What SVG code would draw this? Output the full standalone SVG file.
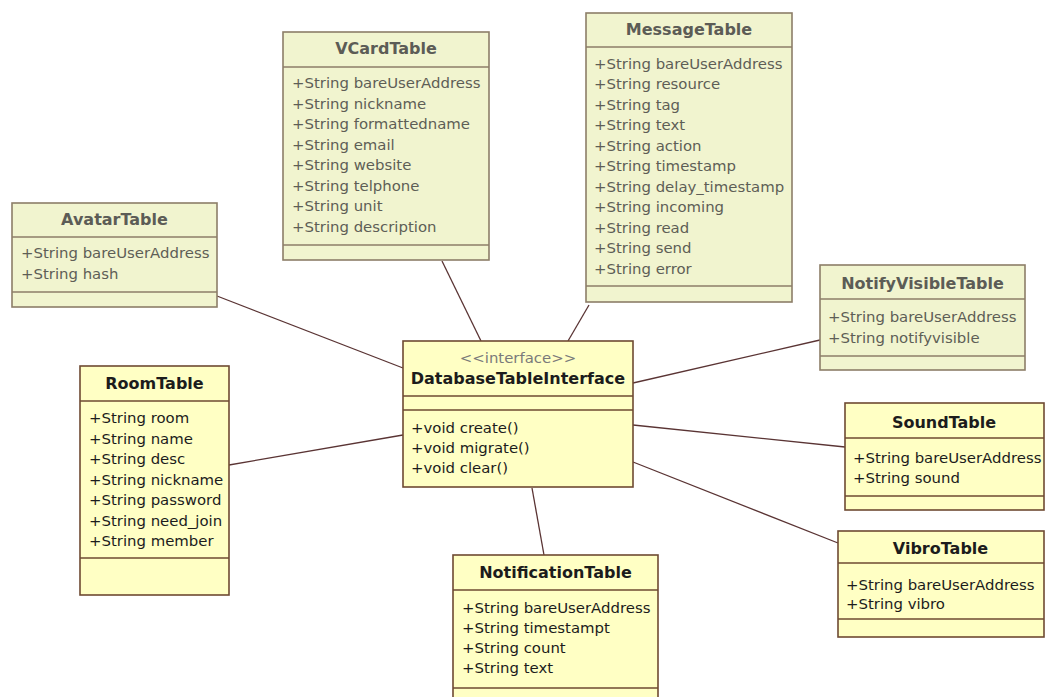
<svg xmlns="http://www.w3.org/2000/svg" width="1046" height="697" viewBox="0 0 1046 697">
  <style>
    .box { fill: #ffffc4; stroke: #6e4a32; stroke-width: 1.6; }
    .sep { stroke: #6e4a32; stroke-width: 1.6; }
    .fbox { fill: #f1f4cf; stroke: #8d7e68; stroke-width: 1.6; }
    .fsep { stroke: #8d7e68; stroke-width: 1.6; }
    .title { font-family: "DejaVu Sans", Verdana, sans-serif; font-size: 16px; font-weight: bold; fill: #1c1c1c; text-anchor: middle; }
    .ftitle { font-family: "DejaVu Sans", Verdana, sans-serif; font-size: 16px; font-weight: bold; fill: #5c5c56; text-anchor: middle; }
    .attr { font-family: "DejaVu Sans", Verdana, sans-serif; font-size: 14.9px; fill: #1c1c1c; }
    .fattr { font-family: "DejaVu Sans", Verdana, sans-serif; font-size: 14.9px; fill: #5e5e56; }
    .stereo { font-family: "DejaVu Sans", Verdana, sans-serif; font-size: 14.9px; fill: #7a7a7a; text-anchor: middle; }
    .link { stroke: #5a3434; stroke-width: 1.3; fill: none; }
  </style>

  <rect width="1046" height="697" fill="#ffffff"/>

  <!-- associations to the interface -->
  <g id="connectors">
    <line class="link" x1="217" y1="296" x2="403" y2="368"/>
    <line class="link" x1="442" y1="261" x2="481" y2="341"/>
    <line class="link" x1="589" y1="305" x2="568" y2="341"/>
    <line class="link" x1="633" y1="383" x2="820" y2="340"/>
    <line class="link" x1="229" y1="465" x2="403" y2="435"/>
    <line class="link" x1="633" y1="425" x2="845" y2="447"/>
    <line class="link" x1="633" y1="462" x2="838" y2="543"/>
    <line class="link" x1="532" y1="488" x2="544" y2="555"/>
  </g>

  <g id="AvatarTable">
    <rect class="fbox" x="12" y="203" width="205" height="104"/>
    <line class="fsep" x1="12" y1="237" x2="217" y2="237"/>
    <line class="fsep" x1="12" y1="292" x2="217" y2="292"/>
    <text class="ftitle" x="114.5" y="225">AvatarTable</text>
    <text class="fattr" x="21" y="258">+String bareUserAddress</text>
    <text class="fattr" x="21" y="279">+String hash</text>
  </g>

  <g id="VCardTable">
    <rect class="fbox" x="283" y="32" width="206" height="228"/>
    <line class="fsep" x1="283" y1="67" x2="489" y2="67"/>
    <line class="fsep" x1="283" y1="245" x2="489" y2="245"/>
    <text class="ftitle" x="386" y="54">VCardTable</text>
    <text class="fattr" x="292" y="88">+String bareUserAddress</text>
    <text class="fattr" x="292" y="108.5">+String nickname</text>
    <text class="fattr" x="292" y="129">+String formattedname</text>
    <text class="fattr" x="292" y="149.5">+String email</text>
    <text class="fattr" x="292" y="170">+String website</text>
    <text class="fattr" x="292" y="190.5">+String telphone</text>
    <text class="fattr" x="292" y="211">+String unit</text>
    <text class="fattr" x="292" y="231.5">+String description</text>
  </g>

  <g id="MessageTable">
    <rect class="fbox" x="586" y="13" width="206" height="289"/>
    <line class="fsep" x1="586" y1="47" x2="792" y2="47"/>
    <line class="fsep" x1="586" y1="286" x2="792" y2="286"/>
    <text class="ftitle" x="689" y="35">MessageTable</text>
    <text class="fattr" x="594" y="68.5">+String bareUserAddress</text>
    <text class="fattr" x="594" y="89">+String resource</text>
    <text class="fattr" x="594" y="109.5">+String tag</text>
    <text class="fattr" x="594" y="130">+String text</text>
    <text class="fattr" x="594" y="150.5">+String action</text>
    <text class="fattr" x="594" y="171">+String timestamp</text>
    <text class="fattr" x="594" y="191.5">+String delay_timestamp</text>
    <text class="fattr" x="594" y="212">+String incoming</text>
    <text class="fattr" x="594" y="232.5">+String read</text>
    <text class="fattr" x="594" y="253">+String send</text>
    <text class="fattr" x="594" y="273.5">+String error</text>
  </g>

  <g id="NotifyVisibleTable">
    <rect class="fbox" x="820" y="265" width="205" height="105"/>
    <line class="fsep" x1="820" y1="299" x2="1025" y2="299"/>
    <line class="fsep" x1="820" y1="356" x2="1025" y2="356"/>
    <text class="ftitle" x="922.5" y="289">NotifyVisibleTable</text>
    <text class="fattr" x="828" y="322">+String bareUserAddress</text>
    <text class="fattr" x="828" y="342.5">+String notifyvisible</text>
  </g>

  <g id="DatabaseTableInterface">
    <rect class="box" x="403" y="341" width="230" height="146"/>
    <line class="sep" x1="403" y1="396" x2="633" y2="396"/>
    <line class="sep" x1="403" y1="410" x2="633" y2="410"/>
    <text class="stereo" x="518" y="363">&lt;&lt;interface&gt;&gt;</text>
    <text class="title" x="518" y="384">DatabaseTableInterface</text>
    <text class="attr" x="411" y="433">+void create()</text>
    <text class="attr" x="411" y="453">+void migrate()</text>
    <text class="attr" x="411" y="472.5">+void clear()</text>
  </g>

  <g id="RoomTable">
    <rect class="box" x="80" y="366" width="149" height="229"/>
    <line class="sep" x1="80" y1="401" x2="229" y2="401"/>
    <line class="sep" x1="80" y1="558" x2="229" y2="558"/>
    <text class="title" x="154.5" y="389">RoomTable</text>
    <text class="attr" x="89" y="423">+String room</text>
    <text class="attr" x="89" y="443.5">+String name</text>
    <text class="attr" x="89" y="464">+String desc</text>
    <text class="attr" x="89" y="484.5">+String nickname</text>
    <text class="attr" x="89" y="505">+String password</text>
    <text class="attr" x="89" y="525.5">+String need_join</text>
    <text class="attr" x="89" y="546">+String member</text>
  </g>

  <g id="SoundTable">
    <rect class="box" x="845" y="403" width="199" height="107"/>
    <line class="sep" x1="845" y1="438" x2="1044" y2="438"/>
    <line class="sep" x1="845" y1="496" x2="1044" y2="496"/>
    <text class="title" x="944" y="428">SoundTable</text>
    <text class="attr" x="853" y="463">+String bareUserAddress</text>
    <text class="attr" x="853" y="482.5">+String sound</text>
  </g>

  <g id="VibroTable">
    <rect class="box" x="838" y="531" width="206" height="106"/>
    <line class="sep" x1="838" y1="563" x2="1044" y2="563"/>
    <line class="sep" x1="838" y1="619" x2="1044" y2="619"/>
    <text class="title" x="940.5" y="554">VibroTable</text>
    <text class="attr" x="846" y="590">+String bareUserAddress</text>
    <text class="attr" x="846" y="608.5">+String vibro</text>
  </g>

  <g id="NotificationTable">
    <rect class="box" x="453" y="555" width="205" height="150"/>
    <line class="sep" x1="453" y1="590" x2="658" y2="590"/>
    <line class="sep" x1="453" y1="688" x2="658" y2="688"/>
    <text class="title" x="555.5" y="578">NotificationTable</text>
    <text class="attr" x="462" y="613">+String bareUserAddress</text>
    <text class="attr" x="462" y="633">+String timestampt</text>
    <text class="attr" x="462" y="653">+String count</text>
    <text class="attr" x="462" y="673">+String text</text>
  </g>
</svg>
